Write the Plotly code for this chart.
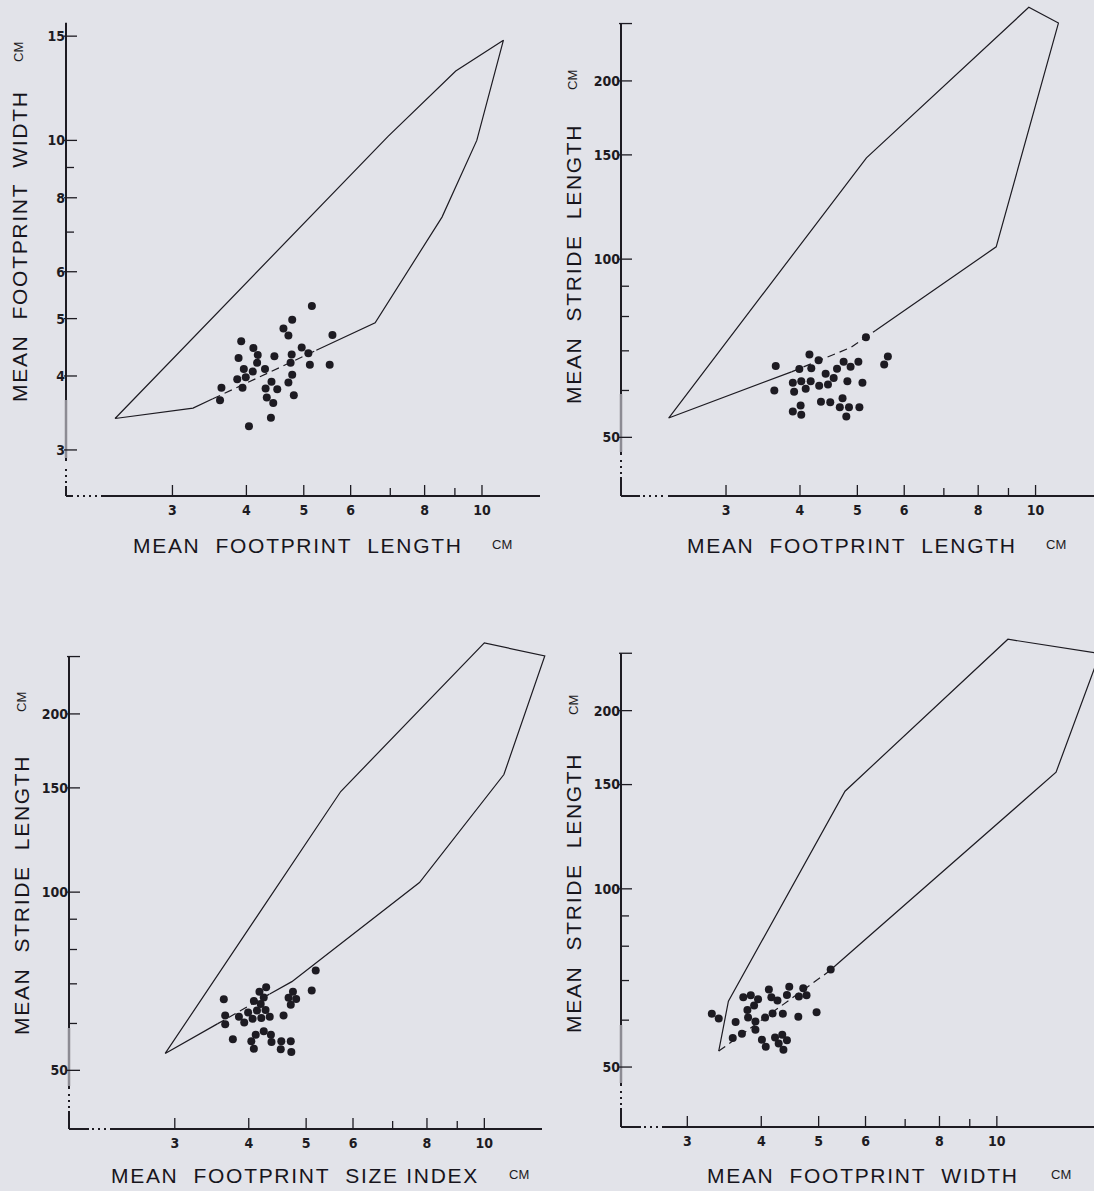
import math
import plotly.graph_objects as go

W, H = 1094, 1191
BG = "#e2e3e9"
INK = "#1d1b22"
TICKFONT = dict(family="Liberation Sans Narrow, DejaVu Sans Condensed, Arial Narrow, sans-serif",
                size=14, color=INK, weight="bold")
TITLEFONT = dict(family="Liberation Sans, Arial, sans-serif", size=21, color="#17151c")
CMFONT = dict(family="Liberation Sans, Arial, sans-serif", size=13, color=INK)

# ---------------- data ----------------
# Panel A: mean footprint width vs mean footprint length
a_len = [5.16, 4.78, 4.62, 4.71, 5.59, 3.92, 4.11, 4.96, 4.18, 3.88, 4.46, 4.77, 5.09, 4.17, 4.75,
         5.12, 5.53, 3.96, 4.30, 4.10, 3.99, 3.86, 4.78, 4.41, 4.71, 3.63, 3.94, 4.31, 4.51, 4.33,
         4.81, 3.61, 4.44, 4.40, 4.04]
a_wid = [5.25, 4.98, 4.81, 4.68, 4.69, 4.58, 4.46, 4.47, 4.34, 4.29, 4.32, 4.35, 4.37, 4.21, 4.21,
         4.18, 4.18, 4.11, 4.11, 4.07, 3.98, 3.95, 4.02, 3.91, 3.90, 3.82, 3.82, 3.81, 3.80, 3.68,
         3.71, 3.64, 3.60, 3.40, 3.29]
a_env_x = [5.25, 6.60, 8.56, 9.80, 10.87, 9.03, 6.94, 2.40, 3.25, 3.51]
a_env_y = [4.42, 4.92, 7.42, 10.0, 14.77, 13.1, 10.16, 3.39, 3.53, 3.66]
a_dash_x = [3.51, 5.25]
a_dash_y = [3.66, 4.42]

# Panel B: mean stride length vs mean footprint length
b_len = [5.17, 4.15, 4.30, 5.63, 3.64, 3.99, 4.18, 4.74, 5.02, 4.87, 5.55, 4.62, 4.42, 4.56, 3.89,
         4.02, 4.17, 4.81, 5.10, 3.62, 3.91, 4.09, 4.31, 4.46, 4.34, 4.50, 4.72, 4.67, 4.84, 5.04,
         4.01, 3.89, 4.02, 4.79]
b_str = [73.8, 69.0, 67.5, 68.5, 66.0, 65.2, 65.4, 67.1, 67.1, 65.8, 66.4, 65.3, 64.0, 63.0, 61.8,
         62.2, 62.2, 62.2, 61.8, 60.0, 59.7, 60.4, 61.1, 61.4, 57.4, 57.3, 58.2, 56.2, 56.2, 56.2,
         56.6, 55.3, 54.6, 54.2]
b_env_x = [5.36, 8.58, 10.93, 9.74, 5.18, 2.40, 3.87]
b_env_y = [75.7, 104.9, 250.5, 266.3, 148.3, 53.9, 64.5]
b_dash_x = [3.87, 4.87, 5.36]
b_dash_y = [64.5, 70.9, 75.7]

# Panel C: mean stride length vs mean footprint size index
c_idx = [5.19, 4.28, 4.17, 4.75, 5.11, 3.63, 4.24, 4.08, 4.67, 4.81, 4.19, 4.71, 3.99, 4.13, 4.27,
         3.65, 3.85, 4.06, 4.20, 4.34, 4.58, 3.93, 3.65, 4.24, 4.11, 4.36, 3.76, 4.04, 4.37, 4.54,
         4.71, 4.08, 4.53, 4.72]
c_str = [73.7, 69.1, 67.9, 67.9, 68.2, 65.9, 66.4, 65.5, 66.3, 66.0, 64.7, 64.5, 62.6, 63.1, 63.2,
         61.9, 61.6, 61.1, 61.3, 61.6, 61.9, 60.2, 59.8, 58.2, 57.4, 57.4, 56.4, 56.0, 55.8, 56.0,
         56.0, 54.4, 54.3, 53.7]
c_env_x = [4.34, 4.73, 7.77, 10.79, 12.65, 10.0, 5.72, 2.89, 3.54]
c_env_y = [67.3, 70.6, 103.8, 158.0, 250.6, 263.6, 147.9, 53.4, 59.9]
c_dash_x = [3.54, 4.34]
c_dash_y = [59.9, 67.3]

# Panel D: mean stride length vs mean footprint width
d_wid = [5.24, 4.46, 4.12, 4.71, 3.73, 3.84, 3.95, 4.16, 4.26, 4.42, 4.63, 4.77, 3.89, 3.79, 3.80,
         3.91, 4.06, 4.18, 4.35, 4.62, 4.96, 3.30, 3.39, 3.62, 3.91, 3.71, 3.58, 4.01, 4.22, 4.34,
         4.42, 4.28, 4.07, 4.36]
d_str = [73.1, 68.3, 67.6, 67.9, 65.6, 66.1, 65.1, 65.6, 64.8, 66.2, 65.8, 66.1, 63.5, 62.4, 60.6,
         59.7, 60.6, 61.6, 61.5, 60.8, 61.9, 61.5, 60.4, 59.6, 57.8, 56.9, 56.0, 55.6, 56.1, 56.7,
         55.5, 54.8, 54.1, 53.5]
d_env_x = [5.20, 12.59, 14.93, 10.44, 5.54, 3.52, 3.39]
d_env_y = [72.5, 157.4, 249.8, 264.0, 146.2, 64.6, 53.2]
d_dash_x = [3.39, 5.20]
d_dash_y = [53.2, 72.5]

len_ticks = [3, 4, 5, 6, 8, 10]
len_minor = [7, 9]
wid_ticks = [3, 4, 5, 6, 8, 10, 15]
wid_minor = [7, 9]
str_ticks = [50, 100, 150, 200, 250]
str_labels = ["50", "100", "150", "200", ""]
str_minor = [60, 70, 80, 90]

# ---------------- panel geometry (pixels) ----------------
S = 592.0  # pixels per decade
panels = [
    dict(L=66, B=496, R=547, T=0, x0=1.983, y0=2.508, ytop=15.8, xend=540,
         ybrk=(10, 13, 31, 35), xbrk=(7, 11, 31, 35)),
    dict(L=621, B=496, R=1094, T=0, x0=1.994, y0=39.8, ytop=250, xend=1094,
         ybrk=(19, 22, 37, 41), xbrk=(19, 22, 43, 47)),
    dict(L=69, B=1129, R=547, T=600, x0=1.988, y0=39.8, ytop=250, xend=542,
         ybrk=(18, 21, 36, 40), xbrk=(20, 23, 37, 41)),
    dict(L=621, B=1127, R=1094, T=600, x0=2.318, y0=39.6, ytop=250, xend=1094,
         ybrk=(19, 22, 37, 41), xbrk=(20, 23, 37, 41)),
]

series = [
    (a_len, a_wid, a_env_x, a_env_y, a_dash_x, a_dash_y, wid_ticks, [str(v) for v in wid_ticks], wid_minor),
    (b_len, b_str, b_env_x, b_env_y, b_dash_x, b_dash_y, str_ticks, str_labels, str_minor),
    (c_idx, c_str, c_env_x, c_env_y, c_dash_x, c_dash_y, str_ticks, str_labels, str_minor),
    (d_wid, d_str, d_env_x, d_env_y, d_dash_x, d_dash_y, str_ticks, str_labels, str_minor),
]

fig = go.Figure()
layout = dict(
    width=W, height=H, paper_bgcolor=BG, plot_bgcolor=BG,
    margin=dict(l=0, r=0, t=0, b=0), showlegend=False,
)
shapes = []
annotations = []

for i, (p, s) in enumerate(zip(panels, series)):
    n = i + 1
    xs, ys, ex, ey, dx, dy, yt, ytl, ym = s
    xa = "x" if n == 1 else f"x{n}"
    ya = "y" if n == 1 else f"y{n}"
    lx0 = math.log10(p["x0"])
    ly0 = math.log10(p["y0"])
    xr = [lx0, lx0 + (p["R"] - p["L"]) / S]
    yr = [ly0, ly0 + (p["B"] - p["T"]) / S]
    layout["xaxis" if n == 1 else f"xaxis{n}"] = dict(
        type="log", range=xr, domain=[p["L"] / W, p["R"] / W], anchor=ya,
        tickvals=len_ticks, ticktext=[str(v) for v in len_ticks], ticks="",
        ticklabelstandoff=4,
        showline=False, showgrid=False, zeroline=False, tickfont=TICKFONT, automargin=False,
        fixedrange=True,
    )
    layout["yaxis" if n == 1 else f"yaxis{n}"] = dict(
        type="log", range=yr, domain=[1 - p["B"] / H, 1 - p["T"] / H], anchor=xa,
        tickvals=yt, ticktext=ytl, ticks="",
        showline=False, showgrid=False, zeroline=False, tickfont=TICKFONT, automargin=False,
        fixedrange=True,
    )
    fig.add_trace(go.Scatter(x=ex, y=ey, mode="lines", xaxis=xa, yaxis=ya,
                             line=dict(color=INK, width=1.2), hoverinfo="skip"))
    fig.add_trace(go.Scatter(x=dx, y=dy, mode="lines", xaxis=xa, yaxis=ya,
                             line=dict(color=INK, width=1.2, dash="8px,5px"), hoverinfo="skip"))
    fig.add_trace(go.Scatter(x=xs, y=ys, mode="markers", xaxis=xa, yaxis=ya, cliponaxis=False,
                             marker=dict(color=INK, size=8, line=dict(width=0))))

    xd = f"{xa} domain"
    yd = f"{ya} domain"
    hpx = p["B"] - p["T"]
    wpx = p["R"] - p["L"]

    def fx(v):
        return (math.log10(v) - xr[0]) / (xr[1] - xr[0])

    def fy(v):
        return (math.log10(v) - yr[0]) / (yr[1] - yr[0])

    ytop_f = fy(p["ytop"])
    xend_f = (p["xend"] - p["L"]) / wpx
    axline = dict(color=INK, width=2)
    dotted = dict(color=INK, width=2, dash="2px,4px")
    a1, a2, a3, a4 = p["ybrk"]
    b1, b2, b3, b4 = p["xbrk"]
    # faded (scanned) patch on the lower part of the vertical axis: grey axis there
    gap = a4 + 3
    # y axis with broken (dotted) base
    shapes.append(dict(type="line", xref=xd, yref=yd, x0=0, x1=0, y0=0, y1=a1 / hpx, line=axline))
    shapes.append(dict(type="line", xref=xd, yref=yd, x0=0, x1=0, y0=a2 / hpx, y1=a3 / hpx, line=dotted))
    shapes.append(dict(type="line", xref=xd, yref=yd, x0=0, x1=0, y0=a4 / hpx, y1=gap / hpx, line=axline))
    shapes.append(dict(type="line", xref=xd, yref=yd, x0=0, x1=0, y0=gap / hpx, y1=(gap + 58) / hpx,
                       line=dict(color="#8c8b93", width=2.5)))
    shapes.append(dict(type="line", xref=xd, yref=yd, x0=0, x1=0, y0=(gap + 58) / hpx, y1=ytop_f,
                       line=axline))
    # x axis with broken (dotted) base
    shapes.append(dict(type="line", xref=xd, yref=yd, x0=0, x1=b1 / wpx, y0=0, y1=0, line=axline))
    shapes.append(dict(type="line", xref=xd, yref=yd, x0=b2 / wpx, x1=b3 / wpx, y0=0, y1=0, line=dotted))
    shapes.append(dict(type="line", xref=xd, yref=yd, x0=b4 / wpx, x1=xend_f, y0=0, y1=0, line=axline))
    # tick marks (inside)
    tk = dict(color=INK, width=1.3)
    for v in yt:
        shapes.append(dict(type="line", xref=xd, yref=yd, x0=-2 / wpx, x1=11 / wpx,
                           y0=fy(v), y1=fy(v), line=tk))
    for v in ym:
        shapes.append(dict(type="line", xref=xd, yref=yd, x0=0, x1=8 / wpx,
                           y0=fy(v), y1=fy(v), line=tk))
    for v in len_ticks:
        shapes.append(dict(type="line", xref=xd, yref=yd, x0=fx(v), x1=fx(v),
                           y0=0, y1=11 / hpx, line=tk))
    for v in len_minor:
        shapes.append(dict(type="line", xref=xd, yref=yd, x0=fx(v), x1=fx(v),
                           y0=0, y1=8 / hpx, line=tk))


def ann(text, px, py, font, angle=0):
    annotations.append(dict(text=text, x=px / W, y=1 - py / H, xref="paper", yref="paper",
                            xanchor="center", yanchor="middle", showarrow=False,
                            textangle=angle, font=font))


def spaced(t):
    return '<span style="letter-spacing:1.7px">' + t + '</span>'


SP = "\u00a0\u00a0"
ann(spaced(f"MEAN{SP}FOOTPRINT{SP}LENGTH"), 298, 545, TITLEFONT)
ann("CM", 502, 544, CMFONT)
ann(spaced(f"MEAN{SP}FOOTPRINT{SP}WIDTH"), 19, 246, TITLEFONT, -90)
ann("CM", 19, 52, CMFONT, -90)

ann(spaced(f"MEAN{SP}FOOTPRINT{SP}LENGTH"), 852, 545, TITLEFONT)
ann("CM", 1056, 544, CMFONT)
ann(spaced(f"MEAN{SP}STRIDE{SP}LENGTH"), 573, 264, TITLEFONT, -90)
ann("CM", 573, 80, CMFONT, -90)

ann(spaced(f"MEAN{SP}FOOTPRINT{SP}SIZE INDEX"), 295, 1175, TITLEFONT)
ann("CM", 519, 1174, CMFONT)
ann(spaced(f"MEAN{SP}STRIDE{SP}LENGTH"), 21, 895, TITLEFONT, -90)
ann("CM", 21, 702, CMFONT, -90)

ann(spaced(f"MEAN{SP}FOOTPRINT{SP}WIDTH"), 863, 1175, TITLEFONT)
ann("CM", 1061, 1174, CMFONT)
ann(spaced(f"MEAN{SP}STRIDE{SP}LENGTH"), 573, 893, TITLEFONT, -90)
ann("CM", 573, 705, CMFONT, -90)

layout["shapes"] = shapes
layout["annotations"] = annotations
fig.update_layout(**layout)
fig.write_html("out.html")
